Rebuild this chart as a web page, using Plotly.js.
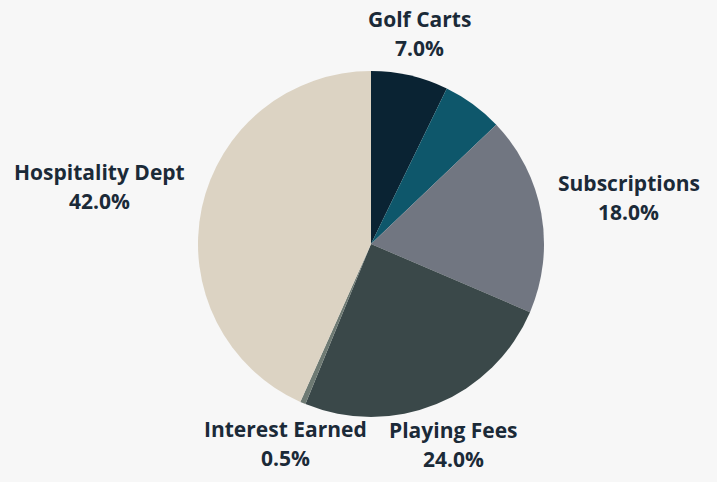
<!DOCTYPE html>
<html><head><meta charset="utf-8">
<script src="https://cdn.plot.ly/plotly-3.0.1.min.js"></script>
<style>html,body{margin:0;padding:0;background:#f7f7f7;}#chart{width:717px;height:482px;}</style>
</head><body><div id="chart"></div>
<script>
const categories = ["Golf Carts", "Other", "Subscriptions", "Playing Fees", "Interest Earned", "Hospitality Dept"];
const values = [7.0, 5.5, 18.0, 24.0, 0.5, 42.0];
const colors = ["#0a2333", "#0e576b", "#717681", "#3a4849", "#6e7a73", "#dcd3c3"];
const showLabel = [true, false, true, true, true, true];

const W = 717, H = 482;
const margin = {l: 25, r: 0, t: 71, b: 65};
const FONT_FAMILY = "Open Sans";
const FONT_SIZE = 21;
const LINE_GAP = 29;
const LABEL_GAP = 17;

function build() {
  const plotW = W - margin.l - margin.r, plotH = H - margin.t - margin.b;
  const R = Math.min(plotW, plotH) / 2;
  const total = values.reduce((a, b) => a + b, 0);
  const ctx = document.createElement("canvas").getContext("2d");
  ctx.font = "bold " + FONT_SIZE + "px '" + FONT_FAMILY + "'";
  const annotations = [];
  const font = {family: FONT_FAMILY + ", sans-serif", size: FONT_SIZE, color: "#1b2a38"};
  let cum = 0;
  values.forEach((v, i) => {
    const mid = (cum + v / 2) / total * 2 * Math.PI;
    cum += v;
    if (!showLabel[i]) return;
    const line1 = categories[i], line2 = v.toFixed(1) + "%";
    const w = Math.max(ctx.measureText(line1).width, ctx.measureText(line2).width);
    const h = LINE_GAP + FONT_SIZE;
    const vx = Math.sin(mid), vy = -Math.cos(mid);
    const ax = (R + LABEL_GAP) * vx, ay = (R + LABEL_GAP) * vy;
    const d = Math.min(Math.abs(vx) > 1e-6 ? (w / 2) / Math.abs(vx) : 1e9,
                       Math.abs(vy) > 1e-6 ? (h / 2) / Math.abs(vy) : 1e9);
    const cx = ax + vx * d, cy = ay + vy * d;
    [[line1, cy - LINE_GAP / 2], [line2, cy + LINE_GAP / 2]].forEach(([t, yy]) => {
      annotations.push({
        xref: "paper", yref: "paper",
        x: 0.5 + cx / plotW, y: 0.5 - yy / plotH,
        xanchor: "center", yanchor: "middle",
        text: "<b>" + t + "</b>",
        showarrow: false, align: "center", font: font
      });
    });
  });

  Plotly.newPlot("chart", [{
    type: "pie",
    labels: categories,
    values: values,
    sort: false,
    direction: "clockwise",
    rotation: 0,
    marker: {colors: colors, line: {width: 0}},
    textinfo: "none",
    hoverinfo: "label+value",
    showlegend: false
  }], {
    width: W, height: H,
    paper_bgcolor: "#f7f7f7",
    plot_bgcolor: "#f7f7f7",
    margin: margin,
    showlegend: false,
    annotations: annotations
  }, {displayModeBar: false, staticPlot: true});
}

if (document.fonts && document.fonts.load) {
  document.fonts.load("bold " + FONT_SIZE + "px '" + FONT_FAMILY + "'").then(build, build);
} else {
  build();
}
</script></body></html>
